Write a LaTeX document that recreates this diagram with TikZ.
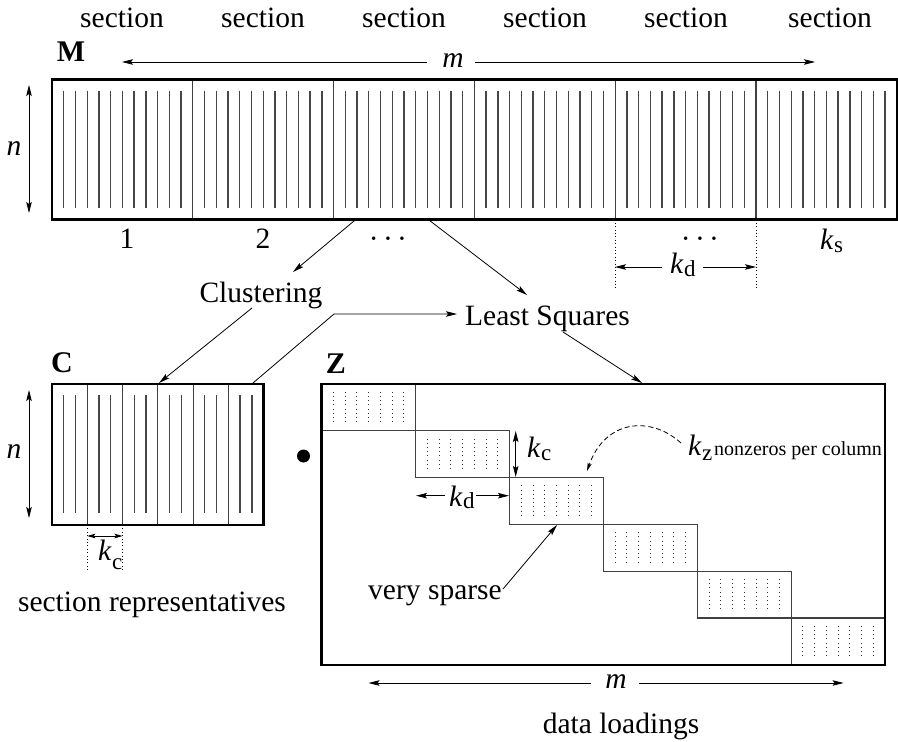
\documentclass[tikz,border=0pt]{standalone}
\usepackage{fontspec}
\setmainfont{Liberation Serif}
\usetikzlibrary{arrows.meta,calc}
\newcommand{\kk}[2][3.5pt]{\textit{k}\kern0.3pt\raisebox{-#1}{\fontsize{23}{23}\selectfont #2}}
\newcommand{\cdt}{·\kern4.3pt·\kern4.3pt·}
\begin{document}
\begin{tikzpicture}[x=1pt,y=-1pt,
  lbl/.style={font=\fontsize{29.5}{32}\selectfont, inner sep=0pt},
  blbl/.style={font=\fontsize{30}{32}\selectfont\bfseries, inner sep=0pt},
  thickbox/.style={draw, line width=2.6pt, inner sep=0pt, outer sep=0pt},
  divline/.style={draw=black!75, line width=1.1pt},
  colline/.style={black!72, line width=1.3pt},
  dotcol/.style={black!80, line width=0.9pt, dash pattern=on 0.8pt off 3.4pt},
  arr/.style={-{Stealth[length=11pt,width=5.5pt,inset=2pt]}, line width=0.8pt},
  darr/.style={{Stealth[length=11pt,width=5.5pt,inset=2pt]}-{Stealth[length=11pt,width=5.5pt,inset=2pt]}, line width=0.8pt},
  dotline/.style={line width=0.9pt, dash pattern=on 0.9pt off 2.5pt}
]
\useasboundingbox (0,0) rectangle (898,742);

% ---------- section labels ----------
\foreach \xx [count=\i] in {122,263,404,545,686,830}
  \node[lbl, anchor=base] (sec\i) at (\xx,27) {section};

% ---------- matrix M ----------
\foreach \s in {0,...,5}
  \foreach \i in {1,...,11}
    \draw[colline] ({52+\s*140.8+\i*140.8/12},90.7) -- ({52+\s*140.8+\i*140.8/12},207.7);
\foreach \s in {1,...,5}
  \draw[divline] ({52+\s*140.8},79.3) -- ({52+\s*140.8},219.3);
\node[thickbox, minimum width=845pt, minimum height=140pt] (M) at (474.5,149.3) {};
\node[blbl, anchor=base] (Mlbl) at (71,61) {M};

% m arrow (top)
\node[lbl, anchor=base] (mtop) at (453,67) {\textit{m}};
\coordinate (mtopL) at (122,62);
\coordinate (mtopR) at (815,62);
\draw[arr] (427,62) -- (mtopL);
\draw[arr] (475,62) -- (mtopR);

% n arrow (M)
\coordinate (nMt) at (29,85);
\coordinate (nMb) at (29,213);
\draw[darr] (nMt) -- (nMb);
\node[lbl, anchor=base] (nM) at (14,155) {\textit{n}};

% labels under M
\node[lbl, anchor=base] (one) at (127,248) {1};
\node[lbl, anchor=base] (two) at (263,248) {2};
\node[lbl, anchor=base] (dots1) at (388,248) {\cdt};
\node[lbl, anchor=base] (dots2) at (700,248) {\cdt};
\node[lbl, anchor=base west] (ks) at (820,249) {\kk{s}};

% k_d under M
\coordinate (kdMl0) at (615,219.3);
\coordinate (kdMl1) at (615,288);
\coordinate (kdMr0) at (756,219.3);
\coordinate (kdMr1) at (756,288);
\draw[dotline] (kdMl0) -- (kdMl1);
\draw[dotline] (kdMr0) -- (kdMr1);
\node[lbl, anchor=base west] (kdM) at (670,273) {\kk{d}};
\coordinate (kdMa) at (615,267);
\coordinate (kdMb) at (756,267);
\draw[arr] (662,267) -- (kdMa);
\draw[arr] (703,267) -- (kdMb);

% ---------- process labels ----------
\node[lbl, anchor=base] (clus) at (261,302) {Clustering};
\node[lbl, anchor=base west] (ls) at (465,325) {Least Squares};

\coordinate (Mout1) at (356,219.3);
\coordinate (Mout2) at (428,219.3);
\coordinate (clusIn) at (293,272);
\coordinate (lsIn) at (527,295);
\draw[arr] (Mout1) -- (clusIn);
\draw[arr] (Mout2) -- (lsIn);

% ---------- matrix C ----------
\foreach \j in {0,...,5}
  \foreach \i in {1,2}
    \draw[colline] ({52+\j*35.27+\i*35.27/3},395) -- ({52+\j*35.27+\i*35.27/3},513);
\foreach \j in {1,...,5}
  \draw[divline] ({52+\j*35.27},384) -- ({52+\j*35.27},525);
\node[thickbox, minimum width=211.6pt, minimum height=141pt] (C) at (157.8,454.5) {};
\node[blbl, anchor=base] (Clbl) at (62,372) {C};

\coordinate (clusOut) at (252,308);
\coordinate (Cin) at (159,383);
\draw[arr] (clusOut) -- (Cin);
\coordinate (Cout) at (253,383);
\coordinate (bend) at (334,314);
\coordinate (lsIn2) at (457,314);
\draw[arr] (Cout) -- (bend) -- (lsIn2);

% n arrow (C)
\coordinate (nCt) at (29,390);
\coordinate (nCb) at (29,518);
\draw[darr] (nCt) -- (nCb);
\node[lbl, anchor=base] (nC) at (14,458) {\textit{n}};

% k_c under C
\coordinate (kcC0) at (87.3,525);
\coordinate (kcC1) at (87.3,570);
\coordinate (kcC2) at (122.5,525);
\coordinate (kcC3) at (122.5,570);
\draw[dotline] (kcC0) -- (kcC1);
\draw[dotline] (kcC2) -- (kcC3);
\coordinate (kcCa) at (87.3,536);
\coordinate (kcCb) at (122.5,536);
\draw[{Stealth[length=8pt,width=4.5pt,inset=1.5pt]}-{Stealth[length=8pt,width=4.5pt,inset=1.5pt]}, line width=0.8pt] (kcCa) -- (kcCb);
\node[lbl, anchor=base west] (kcC) at (98,560) {\kk[9pt]{c}};

\node[lbl, anchor=base] (secrep) at (152,611) {section representatives};

% bullet
\node[circle, fill=black, minimum size=13pt, inner sep=0pt] (bul) at (303.5,456) {};

% ---------- matrix Z ----------
\foreach \b in {0,...,5} {
  \draw[divline] ({321.7+\b*93.9},{384+\b*46.8}) rectangle ++(93.9,46.8);
  \foreach \i in {1,...,7}
    \draw[dotcol] ({321.7+\b*93.9+\i*93.9/8},{384+\b*46.8+7.7}) -- ++(0,32.6);
}
\node[thickbox, minimum width=563.3pt, minimum height=281pt] (Z) at (603.35,524.5) {};
\node[blbl, anchor=base] (Zlbl) at (336,373) {Z};

\coordinate (lsOut) at (563,332);
\coordinate (Zin) at (642,383);
\draw[arr] (lsOut) -- (Zin);

% k_c in Z
\coordinate (kcZa) at (515.7,431);
\coordinate (kcZb) at (515.7,477);
\draw[darr] (kcZa) -- (kcZb);
\node[lbl, anchor=base west] (kcZ) at (527,457) {\kk[3pt]{c}};

% k_d in Z
\node[lbl, anchor=base west] (kdZ) at (449,506) {\kk[2pt]{d}};
\coordinate (kdZa) at (416,495.7);
\coordinate (kdZb) at (509,495.7);
\draw[arr] (445,495.7) -- (kdZa);
\draw[arr] (476,495.7) -- (kdZb);

% k_z label with dashed curved arrow
\node[anchor=base west, inner sep=0pt] (kz) at (688,455)
  {\fontsize{29.5}{32}\selectfont\kk[5pt]{z}\kern2pt\fontsize{20}{22}\selectfont nonzeros per column};
\coordinate (kzStart) at (681,443);
\coordinate (kzEnd) at (587,471);
\draw[-{Stealth[length=8pt,width=4pt,inset=1.5pt]}, line width=0.8pt, dash pattern=on 5pt off 3pt]
  (kzStart) .. controls (650,415) and (605,420) .. (kzEnd);

% very sparse
\node[lbl, anchor=base] (vs) at (435,599) {very sparse};
\coordinate (vsOut) at (503,589);
\coordinate (vsIn) at (557,525);
\draw[arr] (vsOut) -- (vsIn);

% m arrow (bottom)
\node[lbl, anchor=base] (mbot) at (616,688) {\textit{m}};
\coordinate (mbotL) at (368.5,683);
\coordinate (mbotR) at (843.6,683);
\draw[arr] (591,683) -- (mbotL);
\draw[arr] (639,683) -- (mbotR);

\node[lbl, anchor=base] (dl) at (621,733) {data loadings};
\end{tikzpicture}
\end{document}
